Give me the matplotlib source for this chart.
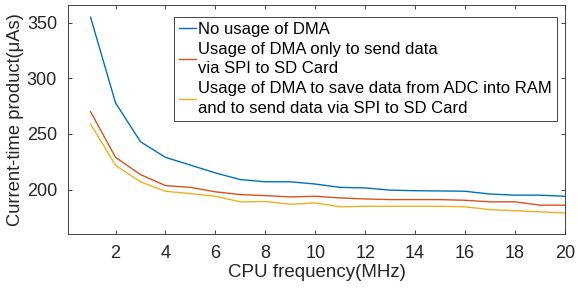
import matplotlib.pyplot as plt
import numpy as np

plt.rcParams['font.family'] = ['Liberation Sans', 'DejaVu Sans']

freq = np.arange(1, 21)
no_dma = [355, 278, 243, 229, 222, 215, 209, 207, 207, 205,
          202, 201.5, 199.5, 199, 198.8, 198.5, 196, 195, 195, 194]
dma_send = [270, 229, 213.5, 203.6, 202, 198, 195.5, 194.6, 193.4, 194,
            192.5, 191.6, 191, 191, 191, 190.4, 189, 189, 186, 186]
dma_adc_send = [259, 221.8, 207, 198.5, 196.4, 194, 189, 189.3, 186.8, 188,
                184.5, 185, 185, 185, 185, 184.5, 182, 181, 180, 179]

labels = ["No usage of DMA",
          "Usage of DMA only to send data\nvia SPI to SD Card",
          "Usage of DMA to save data from ADC into RAM\nand to send data via SPI to SD Card"]

fig = plt.figure(figsize=(5.77, 2.89), dpi=100)
ax = fig.add_axes([0.118, 0.19, 0.861, 0.793])

ax.plot(freq, no_dma, color="#0072BD", lw=1.0, label=labels[0])
ax.plot(freq, dma_send, color="#D95319", lw=1.0, label=labels[1])
ax.plot(freq, dma_adc_send, color="#EDB120", lw=1.0, label=labels[2])

ax.set_xlim(0.1, 20)
ax.set_ylim(160, 366)
ax.set_xticks(np.arange(2, 21, 2))
ax.set_yticks([200, 250, 300, 350])
ax.tick_params(direction="in", top=True, right=True, labelsize=13,
               colors="#262626", length=3, width=0.6, pad=8)
for s in ax.spines.values():
    s.set_color("#262626")
    s.set_linewidth(0.6)

ax.set_xlabel("CPU frequency(MHz)", fontsize=13.5, color="#262626", labelpad=1)
ax.set_ylabel("Current-time product(μAs)", fontsize=13.2, color="#262626", labelpad=2)

leg = ax.legend(loc="upper right", bbox_to_anchor=(0.984, 0.948), borderaxespad=0,
                fontsize=12, handlelength=1.0, handletextpad=0.15,
                labelspacing=0.3, fancybox=False, framealpha=1,
                edgecolor="#262626", borderpad=0.3)
leg.get_frame().set_linewidth(0.6)
for t in leg.get_texts():
    t.set_linespacing(1.38)

fig.savefig("out.png", dpi=100)
